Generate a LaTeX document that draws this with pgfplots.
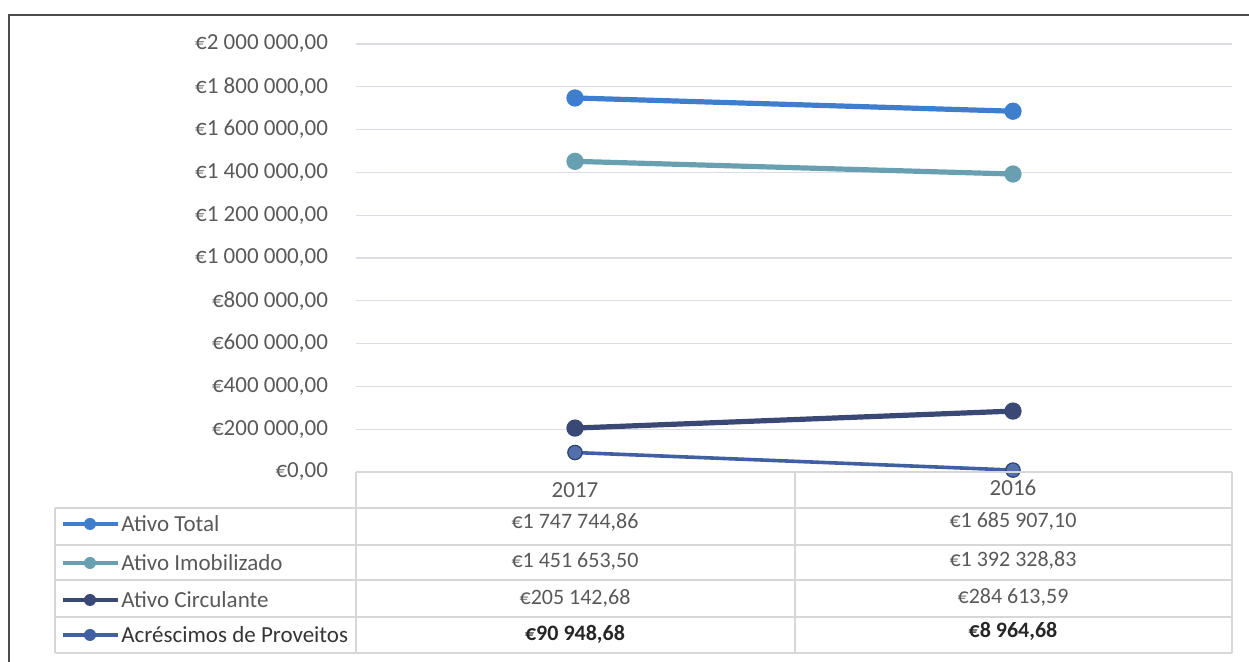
\documentclass[border=0pt]{standalone}
\usepackage{fontspec}
\setmainfont{Carlito}
\usepackage{pgfplots}
\pgfplotsset{compat=1.18}
\definecolor{cTotal}{RGB}{62,126,204}
\definecolor{cImob}{RGB}{104,160,178}
\definecolor{cCirc}{RGB}{58,72,118}
\definecolor{cAcre}{RGB}{64,96,162}
\definecolor{gridc}{RGB}{220,220,230}
\definecolor{tabc}{RGB}{215,215,215}
\definecolor{labc}{RGB}{89,89,89}
\newcommand{\tf}{\fontsize{11.5}{13}\selectfont}
\newcommand{\vf}{\fontsize{11}{13}\selectfont}

\begin{document}
\begin{tikzpicture}[x=0.5pt,y=0.5pt]
\useasboundingbox (0,0) rectangle (1249,662);
\begin{axis}[
    at={(178pt,95pt)}, anchor=south west,
    scale only axis,
    width=438pt, height=214pt,
    xmin=-0.5, xmax=1.5,
    ymin=0, ymax=2000000,
    xtick=\empty,
    ytick={0,200000,400000,600000,800000,1000000,1200000,1400000,1600000,1800000,2000000},
    yticklabels={{€0,00},{€200 000,00},{€400 000,00},{€600 000,00},{€800 000,00},
        {€1 000 000,00},{€1 200 000,00},{€1 400 000,00},{€1 600 000,00},{€1 800 000,00},{€2 000 000,00}},
    yticklabel style={font=\tf, text=labc, xshift=-10.5pt},
    ymajorgrids,
    major grid style={gridc, line width=0.6pt},
    axis line style={draw=none},
    tick style={draw=none},
    scaled y ticks=false,
    clip=false,
]
% Ativo Total
\addplot[cTotal, line width=2.6pt, mark=*, mark size=3pt] coordinates {
    (0,1747744.86) (1,1685907.10)
};
% Ativo Imobilizado
\addplot[cImob, line width=2.6pt, mark=*, mark size=3pt] coordinates {
    (0,1451653.50) (1,1392328.83)
};
% Ativo Circulante
\addplot[cCirc, line width=2.6pt, mark=*, mark size=3pt] coordinates {
    (0,205142.68) (1,284613.59)
};
% Acrescimos de Proveitos
\addplot[cAcre, line width=1.8pt, mark=*, mark size=3.6pt, mark options={fill=cAcre!90!white, draw=cAcre!70!black, line width=0.6pt}] coordinates {
    (0,90948.68) (1,8964.68)
};
\end{axis}

% data table
\begin{scope}[tabc, line width=0.6pt]
\draw (356,190) -- (1232,190);
\foreach \yy in {154,117,82,45,9} \draw (55,\yy) -- (1232,\yy);
\draw (356,190) -- (356,9);
\draw (795,190) -- (795,9);
\draw (1232,190) -- (1232,9);
\draw (55,154) -- (55,9);
\end{scope}

\node[font=\tf, text=labc] at (575,172) {2017};
\node[font=\tf, text=labc] at (1013,174) {2016};

\foreach \yy/\col/\lab/\va/\vb in {
    138/cTotal/Ativo Total/{€1 747 744,86}/{€1 685 907,10},
    99/cImob/Ativo Imobilizado/{€1 451 653,50}/{€1 392 328,83},
    62/cCirc/Ativo Circulante/{€205 142,68}/{€284 613,59}}{
  \draw[\col, line width=2pt] (63,\yy) -- (118,\yy);
  \fill[\col] (90,\yy) circle (6);
  \node[font=\tf, text=labc, anchor=west, inner sep=0pt] at (121,\yy) {\lab};
  \node[font=\vf, text=labc] at (575,\yy+2) {\va};
  \node[font=\vf, text=labc] at (1013,\yy+3) {\vb};
}
\draw[cAcre, line width=2pt] (63,27) -- (118,27);
\fill[cAcre] (90,27) circle (6);
\node[font=\tf, text=labc!60!black, anchor=west, inner sep=0pt] at (121,27) {Acréscimos de Proveitos};
\node[font=\vf\bfseries, text=black!85] at (575,28) {€90 948,68};
\node[font=\vf\bfseries, text=black!85] at (1013,31) {€8 964,68};

% frame
\draw[black!70, line width=1pt] (9,0) -- (9,647) -- (1249,647);
\end{tikzpicture}
\end{document}
